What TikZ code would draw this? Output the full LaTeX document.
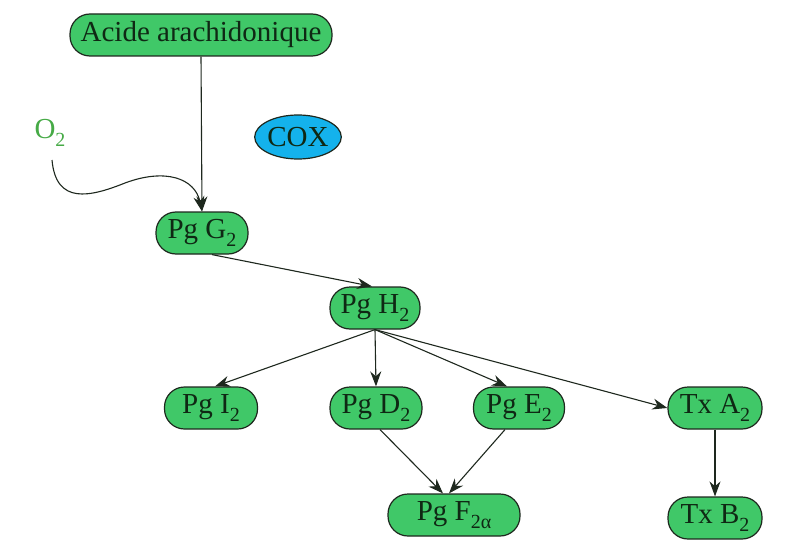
\documentclass[tikz,border=0pt]{standalone}
\usepackage{fontspec}
\setmainfont{Liberation Serif}
\usetikzlibrary{arrows.meta,shapes.geometric}
\definecolor{pgreen}{RGB}{64,200,104}
\definecolor{coxblue}{RGB}{20,178,236}
\definecolor{otext}{RGB}{70,170,70}
\definecolor{edge}{RGB}{30,40,30}
\definecolor{ntext}{RGB}{15,40,20}
\newcommand{\sbs}[1]{\raisebox{-0.6ex}{\fontsize{20}{22}\selectfont #1}}
\begin{document}
\begin{tikzpicture}[x=1pt,y=-1pt,
  pill/.style={draw=edge,line width=1.2pt,fill=pgreen,text=ntext,rounded corners=20pt,minimum height=42pt,inner sep=0pt,font=\fontsize{29}{31}\selectfont},
  arr/.style={draw=edge,line width=1.1pt,-{Stealth[length=15pt,width=11pt]}}
]
\useasboundingbox (0,0) rectangle (799,540);
\node[pill,minimum width=262pt] (aa) at (201,35) {Acide arachidonique};
\node[draw=edge,line width=1.2pt,fill=coxblue,text=ntext,ellipse,minimum width=86pt,minimum height=44pt,inner sep=0pt,font=\fontsize{29}{31}\selectfont] (cox) at (298,137) {COX};
\node[text=otext,font=\fontsize{29}{31}\selectfont] (o2) at (50,133) {O\sbs{2}};
\coordinate (o2s) at (52,160);
\node[pill,minimum width=92pt] (g2) at (202,233) {Pg G\sbs{2}};
\node[pill,minimum width=90pt] (h2) at (375,308) {Pg H\sbs{2}};
\node[pill,minimum width=93pt] (i2) at (211,408) {Pg I\sbs{2}};
\node[pill,minimum width=92pt] (d2) at (376,408) {Pg D\sbs{2}};
\node[pill,minimum width=91pt] (e2) at (519,408) {Pg E\sbs{2}};
\node[pill,minimum width=94pt] (ta2) at (715,408) {Tx A\sbs{2}};
\node[pill,minimum width=132pt] (f2) at (454,515) {Pg F\sbs{2α}};
\node[pill,minimum width=94pt] (tb2) at (715,518) {Tx B\sbs{2}};

\draw[arr] (aa.south) -- (g2.north);
\draw[arr] (o2s) .. controls (56,205) and (90,197) .. (125,183) .. controls (165,168) and (195,178) .. (g2.north);
\draw[arr] ([xshift=10pt]g2.south) -- ([xshift=-3pt]h2.north);
\draw[arr] (h2.south) -- ([xshift=4pt]i2.north);
\draw[arr] (h2.south) -- (d2.north);
\draw[arr] (h2.south) -- ([xshift=-12pt]e2.north);
\draw[arr] (h2.south) -- (ta2.west);
\draw[arr] ([xshift=4pt]d2.south) -- ([xshift=-11pt]f2.north);
\draw[arr] ([xshift=-14pt]e2.south) -- ([xshift=-5pt]f2.north);
\draw[arr] (ta2.south) -- (tb2.north);
\end{tikzpicture}
\end{document}
